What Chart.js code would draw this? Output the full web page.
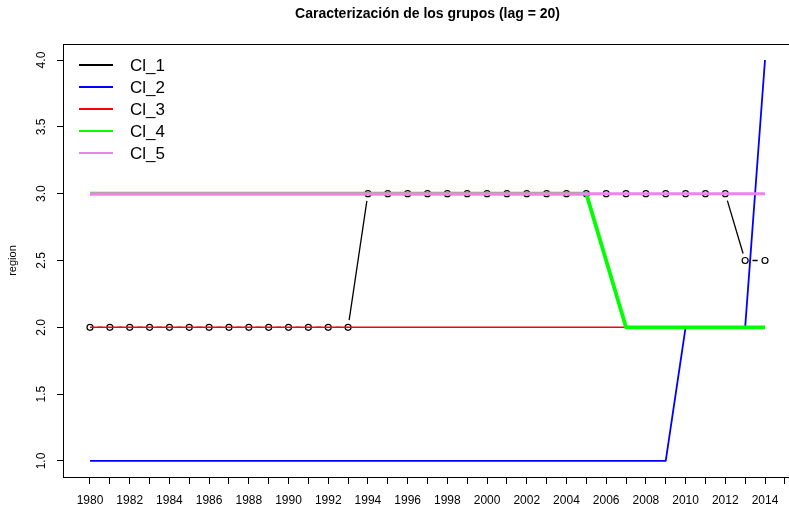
<!DOCTYPE html>
<html>
<head>
<meta charset="utf-8">
<script src="https://cdn.jsdelivr.net/npm/chart.js@4/dist/chart.umd.min.js"></script>
<style>
  html, body { margin: 0; padding: 0; background: #ffffff; overflow: hidden; }
  #wrap { position: relative; width: 800px; height: 506px; }
</style>
</head>
<body>
<div id="wrap"><canvas id="chart" width="800" height="506"></canvas></div>
<script>
// Years on the horizontal axis
const years = [1980, 1981, 1982, 1983, 1984, 1985, 1986, 1987, 1988, 1989,
               1990, 1991, 1992, 1993, 1994, 1995, 1996, 1997, 1998, 1999,
               2000, 2001, 2002, 2003, 2004, 2005, 2006, 2007, 2008, 2009,
               2010, 2011, 2012, 2013, 2014];

// Group series (region index per year)
const cl1 = [2, 2, 2, 2, 2, 2, 2, 2, 2, 2, 2, 2, 2, 2,
             3, 3, 3, 3, 3, 3, 3, 3, 3, 3, 3, 3, 3, 3, 3, 3, 3, 3, 3,
             2.5, 2.5];
const cl2 = [1, 1, 1, 1, 1, 1, 1, 1, 1, 1, 1, 1, 1, 1, 1,
             1, 1, 1, 1, 1, 1, 1, 1, 1, 1, 1, 1, 1, 1, 1,
             2, 2, 2, 2, 4];
const cl3 = [2, 2, 2, 2, 2, 2, 2, 2, 2, 2, 2, 2, 2, 2, 2, 2, 2, 2,
             2, 2, 2, 2, 2, 2, 2, 2, 2, 2, 2, 2, 2, 2, 2, 2, 2];
const cl4 = [3, 3, 3, 3, 3, 3, 3, 3, 3, 3, 3, 3, 3, 3, 3, 3, 3, 3, 3, 3, 3, 3, 3, 3, 3, 3,
             2.5,
             2, 2, 2, 2, 2, 2, 2, 2];
const cl5 = [3, 3, 3, 3, 3, 3, 3, 3, 3, 3, 3, 3, 3, 3, 3, 3, 3, 3,
             3, 3, 3, 3, 3, 3, 3, 3, 3, 3, 3, 3, 3, 3, 3, 3, 3];

// Axis ticks and labels
const xTicks = [1980, 1981, 1982, 1983, 1984, 1985, 1986, 1987, 1988, 1989,
                1990, 1991, 1992, 1993, 1994, 1995, 1996, 1997, 1998, 1999,
                2000, 2001, 2002, 2003, 2004, 2005, 2006, 2007, 2008, 2009,
                2010, 2011, 2012, 2013, 2014, 2015];
const xLabels = [1980, 1982, 1984, 1986, 1988, 1990, 1992, 1994, 1996, 1998,
                 2000, 2002, 2004, 2006, 2008, 2010, 2012, 2014];
const yTicks = [1.0, 1.5, 2.0, 2.5, 3.0, 3.5, 4.0];
const yLabels = ['1.0', '1.5', '2.0', '2.5', '3.0', '3.5', '4.0'];

const seriesNames = ['Cl_1', 'Cl_2', 'Cl_3', 'Cl_4', 'Cl_5'];
const seriesColors = ['#000000', '#0000ff', '#ff0000', '#00ff00', '#ee82ee'];

const FONT = '"Liberation Sans", Arial, Helvetica, sans-serif';

function pts(values) {
  return years.map((yr, i) => ({ x: yr, y: values[i] }));
}

// Lines with a gap around each point (points-and-lines style)
const gapLines = {
  id: 'gapLines',
  beforeDatasetDraw(chart, args) {
    const ds = chart.data.datasets[args.index];
    if (!ds.gap) return;
    const p = args.meta.data;
    const ctx = chart.ctx;
    const g = ds.gap;
    ctx.save();
    ctx.strokeStyle = ds.borderColor;
    ctx.lineWidth = ds.gapLineWidth;
    ctx.beginPath();
    for (let i = 0; i < p.length - 1; i++) {
      const a = p[i], b = p[i + 1];
      const dx = b.x - a.x, dy = b.y - a.y;
      const d = Math.hypot(dx, dy);
      if (d <= 2 * g) continue;
      const ux = dx / d, uy = dy / d;
      ctx.moveTo(a.x + ux * g, a.y + uy * g);
      ctx.lineTo(b.x - ux * g, b.y - uy * g);
    }
    ctx.stroke();
    ctx.restore();
  }
};

// Plot frame, rotated y tick labels and the legend
const decorations = {
  id: 'decorations',
  afterDraw(chart) {
    const ctx = chart.ctx;
    const a = chart.chartArea;
    ctx.save();
    ctx.strokeStyle = '#000000';
    ctx.lineWidth = 1;
    ctx.strokeRect(Math.round(a.left) + 0.5, Math.round(a.top) + 0.5,
                   Math.round(a.right - a.left), Math.round(a.bottom - a.top));

    // y tick labels, reading bottom to top
    const ys = chart.scales.y;
    ctx.fillStyle = '#000000';
    ctx.font = '12px ' + FONT;
    ctx.textAlign = 'center';
    ctx.textBaseline = 'middle';
    yTicks.forEach((v, i) => {
      const py = ys.getPixelForValue(v);
      ctx.save();
      ctx.translate(a.left - 21, py);
      ctx.rotate(-Math.PI / 2);
      ctx.fillText(yLabels[i], 0, 0);
      ctx.restore();
    });

    // legend
    ctx.font = '17px ' + FONT;
    ctx.textAlign = 'left';
    seriesNames.forEach((name, i) => {
      const ly = a.top + 21 + i * 22;
      ctx.strokeStyle = seriesColors[i];
      ctx.lineWidth = 2;
      ctx.beginPath();
      ctx.moveTo(a.left + 16, ly);
      ctx.lineTo(a.left + 50, ly);
      ctx.stroke();
      ctx.fillStyle = '#000000';
      ctx.fillText(name, a.left + 67, ly + 1);
    });
    ctx.restore();
  }
};

new Chart(document.getElementById('chart'), {
  type: 'line',
  data: {
    datasets: [
      {
        label: seriesNames[0], data: pts(cl1), order: 5,
        borderColor: seriesColors[0], backgroundColor: 'rgba(0,0,0,0)',
        showLine: false, pointStyle: 'circle', pointRadius: 3,
        pointBorderWidth: 1.2, pointBorderColor: seriesColors[0],
        pointBackgroundColor: 'rgba(0,0,0,0)',
        gap: 7.3, gapLineWidth: 1.3
      },
      {
        label: seriesNames[1], data: pts(cl2), order: 4,
        borderColor: seriesColors[1], borderWidth: 1.8, pointRadius: 0
      },
      {
        label: seriesNames[2], data: pts(cl3), order: 3,
        borderColor: seriesColors[2], borderWidth: 1.4, pointRadius: 0
      },
      {
        label: seriesNames[3], data: pts(cl4), order: 2,
        borderColor: seriesColors[3], borderWidth: 3.8, pointRadius: 0
      },
      {
        label: seriesNames[4], data: pts(cl5), order: 1,
        borderColor: seriesColors[4], borderWidth: 3, pointRadius: 0
      }
    ]
  },
  options: {
    responsive: false,
    animation: false,
    devicePixelRatio: 1,
    layout: { padding: { left: 0, right: 8, top: 0, bottom: 0 } },
    elements: { line: { tension: 0, borderCapStyle: 'butt', borderJoinStyle: 'round' } },
    plugins: {
      legend: { display: false },
      tooltip: { enabled: false },
      title: {
        display: true,
        fullSize: false,
        text: 'Caracterización de los grupos (lag = 20)',
        color: '#000000',
        font: { family: FONT, size: 14, weight: 'bold', lineHeight: 1.2 },
        padding: { top: 6, bottom: 21.2 }
      }
    },
    scales: {
      x: {
        type: 'linear',
        min: 1978.64,
        max: 2015.36,
        afterBuildTicks: (s) => { s.ticks = xTicks.map(v => ({ value: v })); },
        afterFit: (s) => { s.height = 29; },
        border: { display: false },
        grid: { drawOnChartArea: false, drawTicks: true, tickLength: 7, tickColor: '#000000', tickWidth: 1 },
        ticks: {
          autoSkip: false, maxRotation: 0, minRotation: 0, padding: 9,
          color: '#000000', font: { family: FONT, size: 12 },
          callback: (v) => (xLabels.includes(v) ? String(v) : '')
        }
      },
      y: {
        type: 'linear',
        min: 0.88,
        max: 4.12,
        afterBuildTicks: (s) => { s.ticks = yTicks.map(v => ({ value: v })); },
        afterFit: (s) => { s.width = 63; },
        border: { display: false },
        grid: { drawOnChartArea: false, drawTicks: true, tickLength: 6, tickColor: '#000000', tickWidth: 1 },
        ticks: { display: false },
        title: {
          display: true, text: 'region', color: '#000000',
          font: { family: FONT, size: 11 }, padding: { top: 6, bottom: 0 }
        }
      }
    }
  },
  plugins: [gapLines, decorations]
});
</script>
</body>
</html>
